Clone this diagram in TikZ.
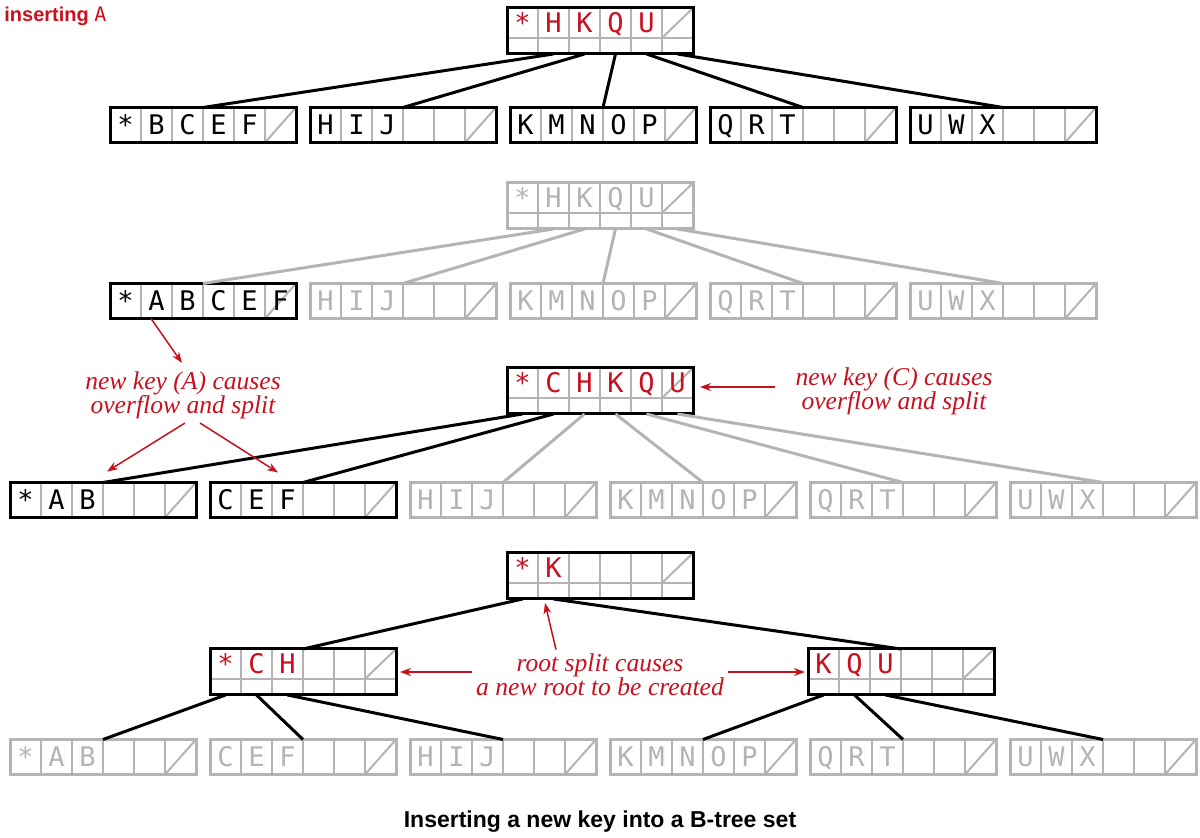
\documentclass[tikz,border=0pt]{standalone}
\usepackage{fontspec}
\setmainfont{Liberation Serif}
\setsansfont{Liberation Sans}
\newfontfamily\keyfont{DejaVu Sans Mono}
\usetikzlibrary{arrows.meta}

\definecolor{treered}{RGB}{200,16,30}
\definecolor{treegray}{RGB}{180,180,180}

\newcommand{\cw}{15.5pt}% cell width
\newcommand{\hw}{7.75pt}% half cell
\newcommand{\lh}{8pt}% link row height

\tikzset{
  leafbox/.style={minimum width=93pt, minimum height=17.5pt, inner sep=0pt, outer sep=0pt, fill=white},
  innerbox/.style={minimum width=93pt, minimum height=23pt, inner sep=0pt, outer sep=0pt, fill=white},
  cellline/.style={treegray, line width=1pt},
  frame/.style={line width=1.5pt},
  keytext/.style={font=\keyfont\fontsize{13.5}{13}\selectfont, anchor=base, inner sep=0pt},
  link/.style={line width=1.5pt},
  note/.style={treered, line width=0.75pt, -{Stealth[length=5.5pt, width=4pt]}},
  notetext/.style={text=treered, font=\itshape\fontsize{12.8}{12}\selectfont, align=center, inner sep=2pt},
}

% leaf page: name, position, frame colour, key colour, keys
\newcommand{\leafpage}[5]{%
  \node[leafbox] (#1) at (#2) {};
  \foreach \ci in {1,...,5}
    \draw[cellline] ([xshift=\ci*\cw]#1.south west) -- ([xshift=\ci*\cw]#1.north west);
  \draw[cellline] ([xshift=5*\cw]#1.south west) -- (#1.north east);
  \foreach \kk [count=\ki from 0] in {#5}
    \node[keytext, text=#4] at ([xshift=\ki*\cw+\hw, yshift=4pt]#1.south west) {\kk};
  \draw[frame, #3] (#1.south west) rectangle (#1.north east);
}

% inner page: keys on top, links below
\newcommand{\innerpage}[5]{%
  \node[innerbox] (#1) at (#2) {};
  \foreach \ci in {1,...,5}
    \draw[cellline] ([xshift=\ci*\cw]#1.south west) -- ([xshift=\ci*\cw]#1.north west);
  \draw[cellline] ([yshift=\lh]#1.south west) -- ([yshift=\lh]#1.south east);
  \draw[cellline] ([xshift=5*\cw, yshift=\lh]#1.south west) -- (#1.north east);
  \foreach \kk [count=\ki from 0] in {#5}
    \node[keytext, text=#4] at ([xshift=\ki*\cw+\hw, yshift=\lh+2.5pt]#1.south west) {\kk};
  \draw[frame, #3] (#1.south west) rectangle (#1.north east);
}

\begin{document}
\begin{tikzpicture}[x=0.5pt, y=-0.5pt]
  \useasboundingbox (0,0) rectangle (1200,838);

  \node[anchor=base west, inner sep=0pt, text=treered] (title) at (4,22)
    {\sffamily\bfseries\fontsize{10}{12}\selectfont inserting {\keyfont\mdseries A}};

  % before
  \innerpage{r1}{600,31}{black}{treered}{*,H,K,Q,U}
  \leafpage{l11}{203,125}{black}{black}{*,B,C,E,F}
  \leafpage{l12}{403,125}{black}{black}{H,I,J}
  \leafpage{l13}{603,125}{black}{black}{K,M,N,O,P}
  \leafpage{l14}{803,125}{black}{black}{Q,R,T}
  \leafpage{l15}{1003,125}{black}{black}{U,W,X}
  \foreach \ci/\child in {1/l11,2/l12,3/l13,4/l14,5/l15}
    \draw[link] ([xshift=\ci*\cw+\hw]r1.south west) -- (\child.north);

  % A goes into the first leaf
  \innerpage{r2}{600,206}{treegray}{treegray}{*,H,K,Q,U}
  \leafpage{l21}{203,301}{black}{black}{*,A,B,C,E,F}
  \leafpage{l22}{403,301}{treegray}{treegray}{H,I,J}
  \leafpage{l23}{603,301}{treegray}{treegray}{K,M,N,O,P}
  \leafpage{l24}{803,301}{treegray}{treegray}{Q,R,T}
  \leafpage{l25}{1003,301}{treegray}{treegray}{U,W,X}
  \foreach \ci/\child in {1/l21,2/l22,3/l23,4/l24,5/l25}
    \draw[link, treegray] ([xshift=\ci*\cw+\hw]r2.south west) -- (\child.north);

  % leaf split
  \innerpage{r3}{600,391}{black}{treered}{*,C,H,K,Q,U}
  \leafpage{l31}{103,500}{black}{black}{*,A,B}
  \leafpage{l32}{303,500}{black}{black}{C,E,F}
  \leafpage{l33}{503,500}{treegray}{treegray}{H,I,J}
  \leafpage{l34}{703,500}{treegray}{treegray}{K,M,N,O,P}
  \leafpage{l35}{903,500}{treegray}{treegray}{Q,R,T}
  \leafpage{l36}{1103,500}{treegray}{treegray}{U,W,X}
  \foreach \ci/\child in {0/l31,1/l32}
    \draw[link] ([xshift=\ci*\cw+\hw]r3.south west) -- (\child.north);
  \foreach \ci/\child in {2/l33,3/l34,4/l35,5/l36}
    \draw[link, treegray] ([xshift=\ci*\cw+\hw]r3.south west) -- (\child.north);

  % root split
  \innerpage{r4}{600,576}{black}{treered}{*,K}
  \innerpage{m1}{303,672}{black}{treered}{*,C,H}
  \innerpage{m2}{901,672}{black}{treered}{K,Q,U}
  \leafpage{l41}{103,757}{treegray}{treegray}{*,A,B}
  \leafpage{l42}{303,757}{treegray}{treegray}{C,E,F}
  \leafpage{l43}{503,757}{treegray}{treegray}{H,I,J}
  \leafpage{l44}{703,757}{treegray}{treegray}{K,M,N,O,P}
  \leafpage{l45}{903,757}{treegray}{treegray}{Q,R,T}
  \leafpage{l46}{1103,757}{treegray}{treegray}{U,W,X}
  \draw[link] ([xshift=\hw]r4.south west) -- (m1.north);
  \draw[link] ([xshift=\cw+\hw]r4.south west) -- (m2.north);
  \foreach \ci/\child in {0/l41,1/l42,2/l43}
    \draw[link] ([xshift=\ci*\cw+\hw]m1.south west) -- (\child.north);
  \foreach \ci/\child in {0/l44,1/l45,2/l46}
    \draw[link] ([xshift=\ci*\cw+\hw]m2.south west) -- (\child.north);

  % notes
  \node[notetext] (noteA) at (183,395) {new key (A) causes\\overflow and split};
  \coordinate (tipA) at (182,363);
  \draw[note] ([xshift=-26pt]l21.south) -- (tipA);
  \draw[note] ([xshift=1pt]noteA.south) -- ([xshift=2pt, yshift=5.5pt]l31.north);
  \draw[note] ([xshift=8.5pt]noteA.south) -- ([xshift=-12.5pt, yshift=5pt]l32.north);

  \node[notetext] (noteC) at (894,391) {new key (C) causes\\overflow and split};
  \draw[note] ([xshift=-8pt, yshift=2pt]noteC.west) -- ([xshift=3.5pt, yshift=2pt]r3.east);

  \node[notetext] (noteRoot) at (600,675) {root split causes\\a new root to be created};
  \draw[note] ([xshift=-22pt]noteRoot.north) -- ([xshift=-27.5pt, yshift=-2pt]r4.south);
  \draw[note] (noteRoot.west |- m1.east) -- ([xshift=2pt]m1.east);
  \draw[note] (noteRoot.east |- m2.west) -- ([xshift=-1.5pt]m2.west);

  \node[font=\sffamily\bfseries\fontsize{11.5}{13}\selectfont] (caption) at (600,822)
    {Inserting a new key into a B-tree set};
\end{tikzpicture}
\end{document}
